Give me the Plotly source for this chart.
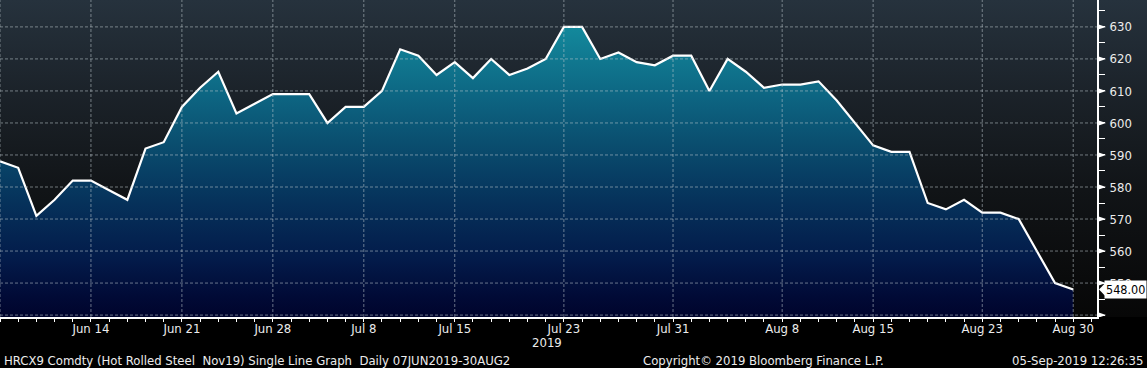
import base64
import pandas as pd
import plotly.graph_objects as go

# ---------------- data ----------------
dates = [d.strftime("%Y-%m-%d") for d in pd.bdate_range("2019-06-07", "2019-08-30")
         if d.strftime("%Y-%m-%d") != "2019-07-04"]
prices = [588, 586, 571, 576, 582, 582, 579, 576, 592, 594,
          605, 611, 616, 603, 606, 609, 609, 609, 600, 605,
          605, 610, 623, 621, 615, 619, 614, 620, 615, 617,
          620, 630, 630, 620, 622, 619, 618, 621, 621, 610,
          620, 616, 611, 612, 612, 613, 607, 600, 593, 591,
          591, 575, 573, 576, 572, 572, 570, 560, 550, 548]
tick_dates = ["2019-06-14", "2019-06-21", "2019-06-28", "2019-07-08", "2019-07-15", "2019-07-23",
              "2019-07-31", "2019-08-08", "2019-08-15", "2019-08-23", "2019-08-30"]
tick_labels = ["Jun 14", "Jun 21", "Jun 28", "Jul 8", "Jul 15", "Jul 23",
               "Jul 31", "Aug 8", "Aug 15", "Aug 23", "Aug 30"]
y_ticks = [540, 550, 560, 570, 580, 590, 600, 610, 620, 630]
y_labels = ["", "550", "560", "570", "580", "590", "600", "610", "620", "630"]
last_label = "548.00"
footer_left = "HRCX9 Comdty (Hot Rolled Steel  Nov19) Single Line Graph  Daily 07JUN2019-30AUG2"
footer_mid = "Copyright\u00a9 2019 Bloomberg Finance L.P."
footer_right = "05-Sep-2019 12:26:35"
year_label = "2019"

W, H = 1147, 368
PW, PH = 1097, 317
Y0, Y1 = 539.4, 638.4
FONT = "DejaVu Sans Condensed, DejaVu Sans, sans-serif"
TXT = "#ececec"

x = list(range(len(dates)))
tick_idx = [dates.index(d) for d in tick_dates]

fig = go.Figure()

fig.add_trace(go.Scatter(
    x=x, y=prices, mode="lines",
    line=dict(color="white", width=2.2),
    fill="tozeroy",
    fillgradient=dict(type="vertical", start=Y0, stop=630,
                      colorscale=[[0.0, "#00042c"], [0.07, "#010a36"], [0.2, "#031b4a"],
                                  [0.4, "#06325b"], [0.6, "#0a4e6f"], [0.76, "#0d6582"],
                                  [1.0, "#13899c"]]),
    hoverinfo="skip", showlegend=False,
))

# background gradient image
svg = ('<svg xmlns="http://www.w3.org/2000/svg" width="100" height="100" viewBox="0 0 100 100" '
       'preserveAspectRatio="none"><defs><linearGradient id="g" x1="0" y1="0" x2="0" y2="1">'
       '<stop offset="0" stop-color="#26323d"/><stop offset="0.3" stop-color="#1b2229"/>'
       '<stop offset="0.6" stop-color="#111417"/><stop offset="1" stop-color="#070707"/>'
       '</linearGradient></defs><rect width="100" height="100" fill="url(#g)"/></svg>')
src = "data:image/svg+xml;base64," + base64.b64encode(svg.encode()).decode()
images = [dict(source=src, xref="paper", yref="paper", x=0, y=1, sizex=W / PW, sizey=1,
               xanchor="left", yanchor="top", sizing="stretch", layer="below")]

shapes = []
grid = dict(color="rgba(190,200,205,0.55)", width=1, dash="3px,2px")
for v in y_ticks:
    shapes.append(dict(type="line", xref="paper", yref="y", x0=0, x1=1, y0=v, y1=v,
                       line=grid, layer="above"))
for i in [0] + tick_idx:
    shapes.append(dict(type="line", xref="x", yref="paper", x0=i, x1=i, y0=0, y1=1,
                       line=grid, layer="above"))
# tick triangles on right axis
xa, xb = (PW + 1) / PW, (PW + 9) / PW
for v in y_ticks:
    shapes.append(dict(type="path", xref="paper", yref="y",
                       path=f"M {xa},{v + 0.85} L {xb},{v} L {xa},{v - 0.85} Z",
                       fillcolor="white", line=dict(width=0), layer="above"))
# last value arrow
last = prices[-1]
shapes.append(dict(type="path", xref="paper", yref="y",
                   path=f"M {(PW + 2) / PW},{last} L {(PW + 8.5) / PW},{last + 2.1} "
                        f"L {(PW + 8.5) / PW},{last - 2.1} Z",
                   fillcolor="white", line=dict(width=0), layer="above"))

annotations = [
    dict(text=last_label, xref="paper", yref="y", x=(PW + 7) / PW, y=last, xanchor="left",
         yanchor="middle", showarrow=False, bgcolor="white", borderpad=1,
         font=dict(family=FONT, size=12.5, color="black")),
    dict(text=year_label, xref="x", yref="paper", x=tick_idx[5], y=-(342 - PH) / PH,
         xanchor="right", yanchor="middle", showarrow=False,
         font=dict(family=FONT, size=13, color=TXT)),
    dict(text=footer_left, xref="paper", yref="paper", x=2 / PW, y=-(360 - PH) / PH,
         xanchor="left", yanchor="middle", showarrow=False,
         font=dict(family=FONT, size=13, color=TXT)),
    dict(text=footer_mid, xref="paper", yref="paper", x=763 / PW, y=-(360 - PH) / PH,
         xanchor="center", yanchor="middle", showarrow=False,
         font=dict(family=FONT, size=13, color=TXT)),
    dict(text=footer_right, xref="paper", yref="paper", x=1145 / PW, y=-(360 - PH) / PH,
         xanchor="right", yanchor="middle", showarrow=False,
         font=dict(family=FONT, size=13, color=TXT)),
]

fig.update_layout(
    width=W, height=H,
    margin=dict(l=0, r=W - PW, t=0, b=H - PH),
    paper_bgcolor="black", plot_bgcolor="rgba(0,0,0,0)",
    images=images, shapes=shapes, annotations=annotations,
    showlegend=False,
    xaxis=dict(range=[0, (PW) / 18.19], tickmode="array", tickvals=tick_idx, ticktext=tick_labels,
               showgrid=False, zeroline=False, showline=True, linecolor="white", linewidth=2,
               ticks="outside", ticklen=3, tickcolor="white", tickwidth=1,
               minor=dict(dtick=1, tick0=0, ticks="outside", ticklen=3, tickcolor="white", showgrid=False),
               tickfont=dict(family=FONT, size=13, color=TXT), ticklabelstandoff=-5, fixedrange=True),
    yaxis=dict(range=[Y0, Y1], side="right", tickmode="array", tickvals=y_ticks, ticktext=y_labels,
               showgrid=False, zeroline=False, showline=True, linecolor="white", linewidth=2,
               ticks="outside", ticklen=6, tickcolor="white", tickwidth=1,
               minor=dict(dtick=5, tick0=0, ticks="outside", ticklen=6, tickcolor="white", showgrid=False),
               tickfont=dict(family=FONT, size=13, color=TXT), ticklabelstandoff=2, fixedrange=True),
)

fig.write_html("out.html")
